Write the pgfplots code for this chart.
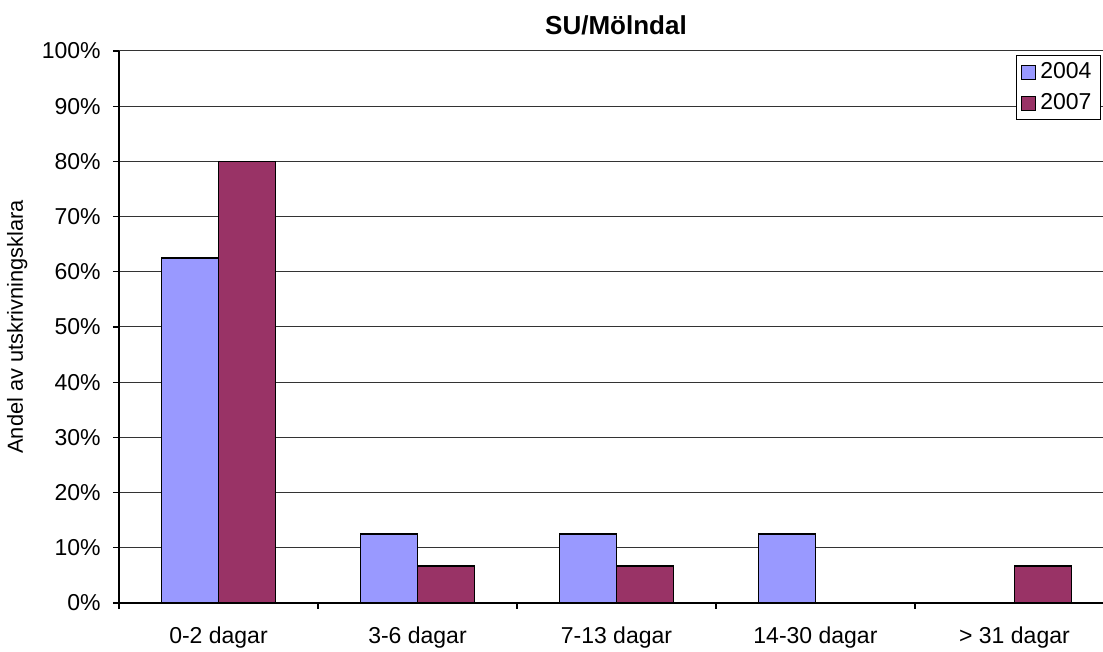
\documentclass[border=0pt]{standalone}
\usepackage{pgfplots}
\pgfplotsset{compat=1.18}
\usepackage{fontspec}
\setmainfont{Liberation Sans}
\definecolor{serA}{RGB}{153,153,255}
\definecolor{serB}{RGB}{153,51,102}
\begin{document}
\begin{tikzpicture}
\begin{axis}[
    name=ax,
    scale only axis,
    width=492pt, height=276pt,
    ybar=0pt, bar width=28.5pt,
    xmin=-0.5, xmax=4.445,
    ymin=0, ymax=100,
    axis x line*=bottom, axis y line*=left,
    axis line style={line width=0.6pt},
    xtick={0,1,2,3,4},
    xticklabels={0-2 dagar,3-6 dagar,7-13 dagar,14-30 dagar,> 31 dagar},
    major x tick style={draw=none},
    minor xtick={-0.5,0.5,1.5,2.5,3.5},
    minor x tick style={line width=0.6pt, black},
    minor tick length=3pt,
    ytick={0,10,...,100},
    yticklabels={0\%,10\%,20\%,30\%,40\%,50\%,60\%,70\%,80\%,90\%,100\%},
    major y tick style={line width=0.6pt, black},
    major tick length=3pt,
    tick align=outside,
    ymajorgrids=true,
    grid style={black!80, line width=0.5pt},
    tick label style={font=\fontsize{11.5}{14}\selectfont},
    xticklabel style={anchor=base, inner sep=0pt, yshift=-17.5pt},
    yticklabel style={anchor=east, inner sep=0pt, xshift=-6pt},
    title={SU/Mölndal},
    title style={font=\fontsize{13}{15}\selectfont\bfseries, at={(axis description cs:0.5,1)}, anchor=base, yshift=2pt, xshift=2.5pt},
    ylabel={Andel av utskrivningsklara},
    every axis y label/.style={at={(axis description cs:-0.0976,0.5)}, rotate=90, anchor=base, font=\fontsize{10.9}{13}\selectfont},
    legend style={at={(1,1)}, anchor=north east, xshift=-1pt, yshift=-2pt,
        draw=black, line width=0.5pt, font=\fontsize{11.5}{14}\selectfont,
        inner xsep=2.5pt, inner ysep=1.5pt, row sep=2pt},
    legend cell align=left,
    legend image code/.code={\draw[#1, draw=black, line width=0.5pt] (0pt,-3.5pt) rectangle (7pt,3.5pt);},
]
\addplot[fill=serA, draw=black, line width=0.6pt] coordinates {(0,62.5) (1,12.5) (2,12.5) (3,12.5)};
\addplot[fill=serB, draw=black, line width=0.6pt] coordinates {(0,80) (1,6.7) (2,6.7) (4,6.7)};
\legend{2004,2007}
\end{axis}
\pgfresetboundingbox
\path[use as bounding box] ([xshift=-59.5pt, yshift=-24.5pt]ax.south west) rectangle ([yshift=25.5pt]ax.north east);
\end{tikzpicture}
\end{document}
